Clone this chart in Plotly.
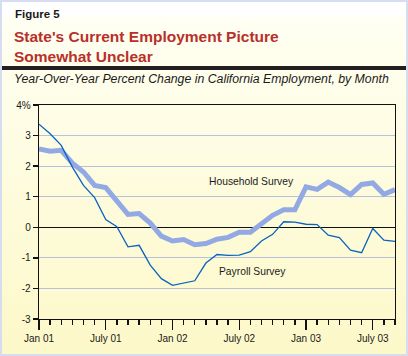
import base64
import plotly.graph_objects as go

# ---------------- data ----------------
months = list(range(33))  # Jan 01 .. Sep 03
tick_vals = [0, 6, 12, 18, 24, 30]
tick_text = ["Jan 01", "July 01", "Jan 02", "July 02", "Jan 03", "July 03"]

payroll = [3.37, 3.06, 2.68, 1.97, 1.37, 0.97, 0.25, 0.02, -0.64, -0.59,
           -1.24, -1.68, -1.90, -1.83, -1.75, -1.17, -0.89, -0.92, -0.91, -0.80,
           -0.45, -0.23, 0.18, 0.17, 0.10, 0.09, -0.26, -0.34, -0.75, -0.83,
           -0.04, -0.42, -0.46]
household = [2.56, 2.49, 2.52, 2.10, 1.81, 1.37, 1.30, 0.88, 0.42, 0.45,
             0.14, -0.29, -0.45, -0.40, -0.57, -0.53, -0.39, -0.33, -0.16, -0.16,
             0.12, 0.39, 0.57, 0.57, 1.32, 1.24, 1.48, 1.30, 1.07, 1.40,
             1.45, 1.08, 1.23]

y_ticks = [4, 3, 2, 1, 0, -1, -2, -3]
y_tick_text = ["4%", "3", "2", "1", "0", "-1", "-2", "-3"]

# ---------------- layout geometry ----------------
W, H = 408, 356
ML, MR, MT, MB = 39, 13, 105, 37
PW, PH = W - ML - MR, H - MT - MB


def px(x):
    return (x - ML) / PW


def py(y):
    return (H - MB - y) / PH


FONT = "Liberation Sans, Arial, Helvetica, sans-serif"

svg = (
    '<svg xmlns="http://www.w3.org/2000/svg" width="408" height="340" preserveAspectRatio="none">'
    '<defs><linearGradient id="g" x1="0" y1="0" x2="0" y2="1">'
    '<stop offset="0" stop-color="#fffff3"/><stop offset="1" stop-color="#fdf8c8"/>'
    '</linearGradient></defs><rect width="408" height="340" fill="url(#g)"/></svg>'
)
src = "data:image/svg+xml;base64," + base64.b64encode(svg.encode()).decode()

fig = go.Figure()
fig.add_trace(go.Scatter(x=months, y=household, mode="lines",
                         line=dict(color="#93a9e3", width=5), hoverinfo="skip",
                         showlegend=False))
fig.add_trace(go.Scatter(x=months, y=payroll, mode="lines",
                         line=dict(color="#0a63c0", width=1.3), hoverinfo="skip",
                         showlegend=False))

shapes = [
    # outer border
    dict(type="rect", xref="paper", yref="paper", x0=px(0), x1=px(W), y0=py(H), y1=py(0),
         line=dict(color="#d6ddf0", width=4), fillcolor="rgba(0,0,0,0)", layer="above"),
    # white top band
    dict(type="rect", xref="paper", yref="paper", x0=px(2), x1=px(W - 2), y0=py(17), y1=py(2),
         line=dict(width=0), fillcolor="#ffffff", layer="below"),
    # black separator bar
    dict(type="rect", xref="paper", yref="paper", x0=px(1), x1=px(W - 2), y0=py(70), y1=py(66),
         line=dict(width=0), fillcolor="#231f20", layer="below"),
]

annotations = [
    dict(text="<b>Figure 5</b>", xref="paper", yref="paper", x=px(13), y=py(14.5),
         xanchor="left", yanchor="middle", showarrow=False,
         font=dict(family=FONT, size=11.5, color="#1a1a1a")),
    dict(text="<b>State's Current Employment Picture<br>Somewhat Unclear</b>",
         xref="paper", yref="paper", x=px(12), y=py(46), xanchor="left", yanchor="middle",
         align="left", showarrow=False,
         font=dict(family=FONT, size=15.5, color="#b8302a")),
    dict(text="<i>Year-Over-Year Percent Change in California Employment, by Month</i>",
         xref="paper", yref="paper", x=px(12), y=py(79), xanchor="left", yanchor="middle",
         showarrow=False, font=dict(family=FONT, size=12.3, color="#1a1a1a")),
    dict(text="Household Survey", x=19.07, y=1.51, xref="x", yref="y", showarrow=False,
         font=dict(family=FONT, size=10.3, color="#1a1a1a")),
    dict(text="Payroll Survey", x=19.2, y=-1.43, xref="x", yref="y", showarrow=False,
         font=dict(family=FONT, size=10.3, color="#1a1a1a")),
]

fig.update_layout(
    width=W, height=H,
    margin=dict(l=ML, r=MR, t=MT, b=MB, pad=0),
    paper_bgcolor="#fffff3",
    plot_bgcolor="rgba(0,0,0,0)",
    shapes=shapes,
    annotations=annotations,
    images=[dict(source=src, xref="paper", yref="paper", x=px(0), y=py(17),
                 sizex=W / PW, sizey=(H - 17) / PH, xanchor="left", yanchor="top",
                 sizing="stretch", layer="below")],
    xaxis=dict(range=[0, 32], tickmode="linear", tick0=0, dtick=6,
               labelalias={str(v): t for v, t in zip(tick_vals, tick_text)},
               showgrid=False, zeroline=False, showline=True, linecolor="#111",
               linewidth=1.3, mirror=True, ticks="outside", ticklen=10, tickcolor="#111",
               tickwidth=1.3,
               minor=dict(ticks="outside", ticklen=5, tickmode="linear", dtick=1, tick0=0,
                          tickcolor="#111", tickwidth=1.3, showgrid=False),
               tickfont=dict(family=FONT, size=10, color="#1a1a1a")),
    yaxis=dict(range=[-3, 4], tickvals=y_ticks, ticktext=y_tick_text,
               showgrid=True, gridcolor="#b6c1dc", gridwidth=1,
               zeroline=True, zerolinecolor="#111", zerolinewidth=1.3,
               showline=True, linecolor="#111", linewidth=1.3, mirror=True,
               ticks="outside", ticklen=5, tickcolor="#111", tickwidth=1.3,
               tickfont=dict(family=FONT, size=10, color="#1a1a1a")),
)

fig.write_html("out.html", config={"displayModeBar": False, "staticPlot": True},
               post_script="document.body.style.margin='0';document.body.style.overflow='hidden';")
